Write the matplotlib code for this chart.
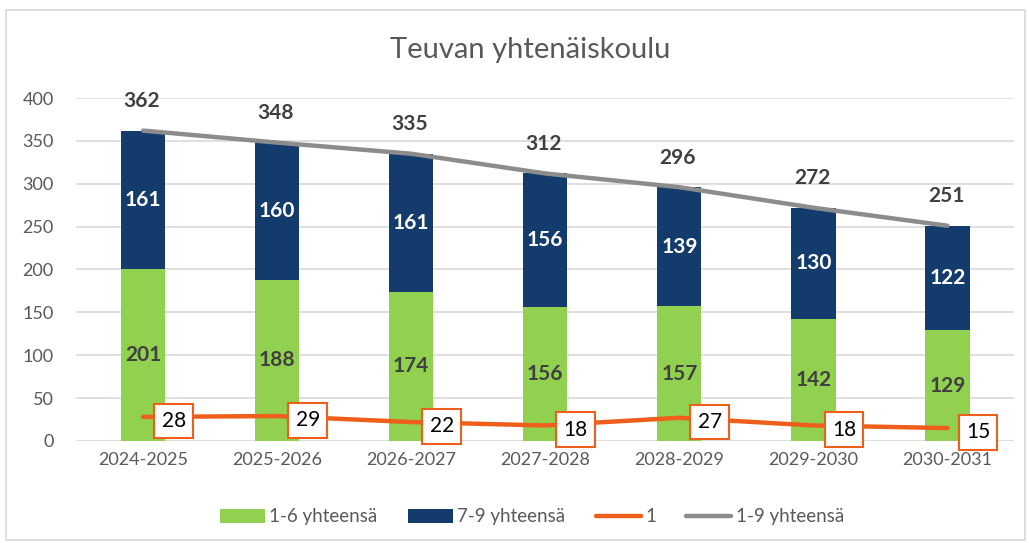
import matplotlib
matplotlib.use("Agg")
import matplotlib.pyplot as plt
from matplotlib.patches import Rectangle
import numpy as np

plt.rcParams['font.family'] = ['Lato', 'DejaVu Sans']

categories = ["2024-2025", "2025-2026", "2026-2027", "2027-2028", "2028-2029", "2029-2030", "2030-2031"]
g16 = [201, 188, 174, 156, 157, 142, 129]
g79 = [161, 160, 161, 156, 139, 130, 122]
g1 = [28, 29, 22, 18, 27, 18, 15]
g19 = [362, 348, 335, 312, 296, 272, 251]

GREEN = "#92D050"
NAVY = "#133C6C"
ORANGE = "#EE5F1C"
GRAY = "#8C8C8C"
TXT = "#404040"

fig = plt.figure(figsize=(10.29, 5.43), dpi=100)
fig.patches.append(Rectangle((0.006, 0.006), 0.99, 0.975, transform=fig.transFigure,
                             fill=False, edgecolor="#D9D9D9", linewidth=1.2))
ax = fig.add_axes([0.0739, 0.188, 0.912, 0.6315])
x = np.arange(len(categories))
w = 0.33
b1 = ax.bar(x, g16, w, color=GREEN, label="1-6 yhteensä", zorder=2)
b2 = ax.bar(x, g79, w, bottom=g16, color=NAVY, label="7-9 yhteensä", zorder=2)
l1, = ax.plot(x, g1, color=ORANGE, lw=3.2, solid_capstyle="round", label="1", zorder=3)
l2, = ax.plot(x, g19, color=GRAY, lw=3.2, solid_capstyle="round", label="1-9 yhteensä", zorder=3)

for i in x:
    ax.text(i, g16[i] / 2, str(g16[i]), ha="center", va="center", fontsize=15,
            fontweight="bold", color=TXT, zorder=4)
    ax.text(i, g16[i] + g79[i] / 2, str(g79[i]), ha="center", va="center", fontsize=15,
            fontweight="bold", color="white", zorder=4)
    ax.annotate(str(g19[i]), (i, g19[i]), xytext=(-1, 14), textcoords="offset points",
                ha="center", va="bottom", fontsize=15, fontweight="bold", color=TXT, zorder=4)
    ax.annotate(str(g1[i]), (i, g1[i]), xytext=(22, -3), textcoords="offset points",
                ha="center", va="center", fontsize=15, color="black", zorder=5,
                bbox=dict(boxstyle="square,pad=0.35", fc="white", ec=ORANGE, lw=1.5))

ax.set_xlim(-0.5, len(categories) - 0.5)
ax.set_ylim(0, 400)
ax.set_yticks(range(0, 401, 50))
ax.set_xticks(x)
ax.set_xticklabels(categories)
ax.tick_params(axis="both", length=0, labelsize=13, colors="#595959", pad=8)
ax.tick_params(axis="y", pad=16)
ax.grid(axis="y", color="#D9D9D9", lw=1.2, zorder=0)
ax.set_axisbelow(True)
for s in ax.spines.values():
    s.set_visible(False)

fig.text(0.515, 0.907, "Teuvan yhtenäiskoulu", ha="center", va="center", fontsize=21, color="#595959")
leg = fig.legend(handles=[b1, b2, l1, l2], loc="center", bbox_to_anchor=(0.517, 0.048), ncol=4,
                 frameon=False, fontsize=13.5, handlelength=2.4, handleheight=0.8,
                 handletextpad=0.25, columnspacing=1.6)
for t in leg.get_texts():
    t.set_color("#595959")

fig.savefig("out.png", dpi=100)
